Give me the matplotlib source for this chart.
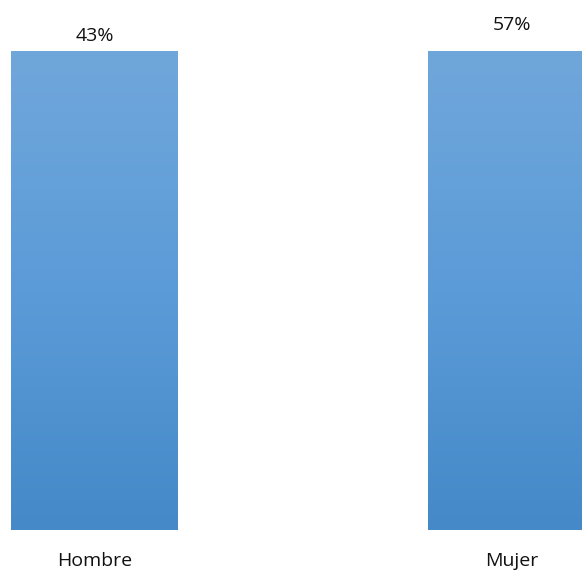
import numpy as np
import matplotlib
matplotlib.use('Agg')
import matplotlib.pyplot as plt
from matplotlib.colors import LinearSegmentedColormap

categories = ['Hombre', 'Mujer']
values = [0.43, 0.57]
labels = ['43%', '57%']

plt.rcParams['font.family'] = ['Open Sans', 'DejaVu Sans']

fig = plt.figure(figsize=(5.82, 5.72), dpi=100)
W, H = 582, 572
# axes placed in pixel terms: bottom at y=530, top at y=51
ax = fig.add_axes([0, (H - 530) / H, 1, (530 - 51) / H])

x = np.arange(len(categories))
width = 0.40
top = 0.43
bars = ax.bar(x, values, width=width, color='none', edgecolor='none')

# vertical gradient fill like the original (bars cut off at the axis top)
cmap = LinearSegmentedColormap.from_list('bluegrad', ['#4589c8', '#5b9bd8', '#70a7db'])
grad = np.linspace(0, 1, 256).reshape(-1, 1)
for b in bars:
    x0 = b.get_x()
    ax.imshow(grad, cmap=cmap, aspect='auto', origin='lower',
              extent=[x0, x0 + b.get_width(), 0, min(b.get_height(), top)], zorder=2)

px_per_unit = 417
ax.set_xlim(-94.5 / px_per_unit, (W - 94.5) / px_per_unit)
ax.set_ylim(0, top)

# value labels above the (cut off) bars
offsets = [11, 19]
for xi, v, lab, off in zip(x, values, labels, offsets):
    ax.annotate(lab, xy=(xi, min(v, top)), xytext=(0, off), textcoords='offset points',
                ha='center', va='center', fontsize=14, color='#111111',
                annotation_clip=False)

ax.set_xticks(x)
ax.set_xticklabels(categories, fontsize=14, color='#111111')
ax.tick_params(axis='x', length=0, pad=16)
ax.set_yticks([])
for s in ax.spines.values():
    s.set_visible(False)

fig.savefig('out.png', dpi=100)
